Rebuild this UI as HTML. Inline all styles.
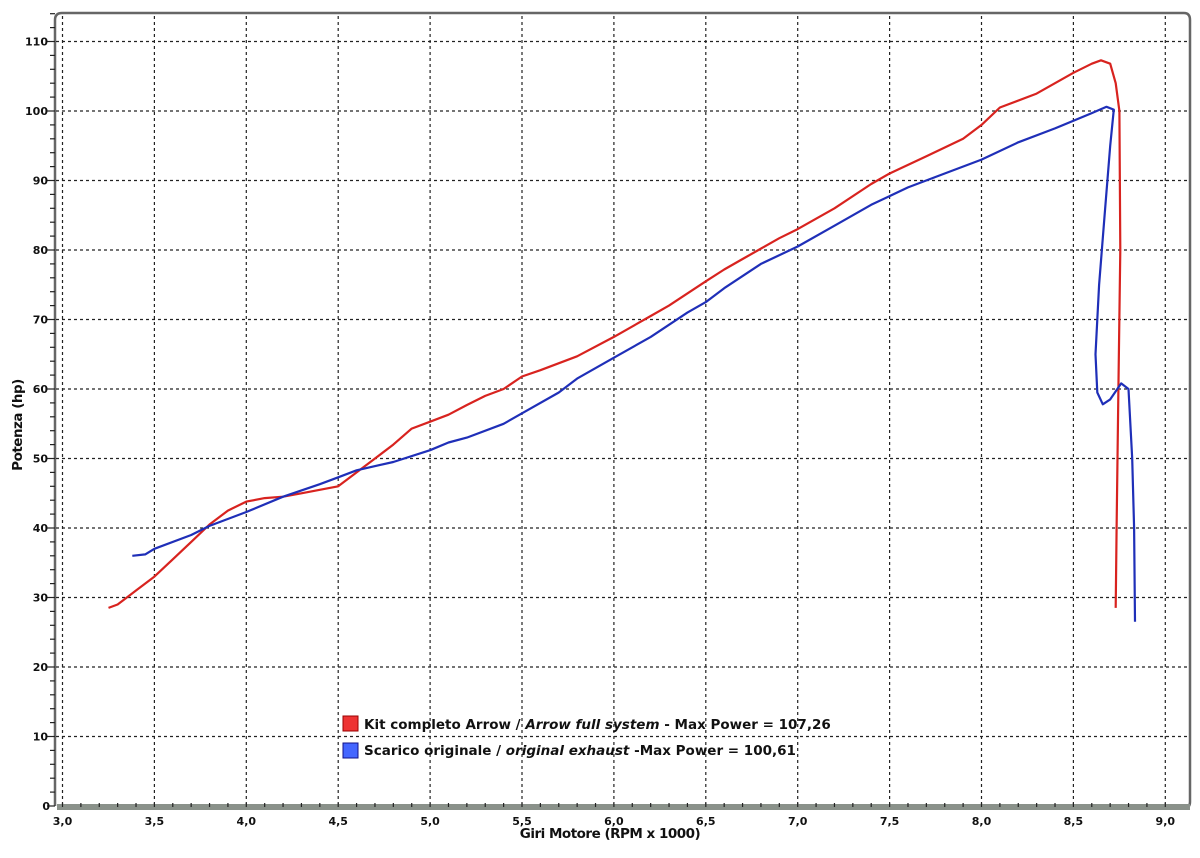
<!DOCTYPE html>
<html><head><meta charset="utf-8"><style>
html,body{margin:0;padding:0;background:#fff;}
svg{display:block;font-family:"DejaVu Sans","Liberation Sans",sans-serif;}
</style></head><body>
<svg id="s" width="1200" height="858" viewBox="0 0 1200 858" xmlns="http://www.w3.org/2000/svg">
<rect width="1200" height="858" fill="#fff"/>
<path d="M55,806 L55,20 Q55,13 62,13 L1184,13 Q1190,13 1190,20 L1190,802 Q1190,808 1184,808" fill="none" stroke="#666" stroke-width="2.5"/>
<rect x="57" y="804" width="1133" height="6" fill="#8a918a"/>
<g id="grid"></g>
<g id="ticks"></g>
<g id="labels" font-size="11" font-weight="bold" fill="#111"></g>
<g id="curves"></g>
<rect x="343" y="716" width="15" height="15" fill="#e33" stroke="#900"/>
<rect x="343" y="743" width="15" height="15" fill="#46f" stroke="#118"/>
<text x="364" y="729" font-size="13.5" font-weight="bold" fill="#111">Kit completo Arrow / <tspan font-style="italic">Arrow full system</tspan> - Max Power = 107,26</text>
<text x="364" y="755" font-size="13.5" font-weight="bold" fill="#111">Scarico originale / <tspan font-style="italic">original exhaust</tspan> -Max Power = 100,61</text>
<text x="610" y="838" font-size="13.5" font-weight="bold" text-anchor="middle" fill="#111" letter-spacing="-0.5">Giri Motore (RPM x 1000)</text>
<text transform="translate(22,425) rotate(-90)" font-size="13.5" font-weight="bold" text-anchor="middle" fill="#111" letter-spacing="-0.5">Potenza (hp)</text>
</svg>
<script>
var NS="http://www.w3.org/2000/svg";
function X(v){return 62.5+(v-3)*183.8;}
function Y(v){return 806-v*6.95;}
function el(t,a,p){var e=document.createElementNS(NS,t);for(var k in a)e.setAttribute(k,a[k]);document.getElementById(p).appendChild(e);return e;}
for(var i=0;i<=12;i++){var x=X(3+i*0.5);
 el("line",{x1:x,y1:16,x2:x,y2:804,stroke:"#222","stroke-width":1.2,"stroke-dasharray":"3,3"},"grid");
 var t=el("text",{x:x,y:825,"text-anchor":"middle"},"labels");t.textContent=(3+i*0.5).toFixed(1).replace(".",",");}
for(var j=1;j<=11;j++){var y=Y(j*10);
 el("line",{x1:56,y1:y,x2:1188,y2:y,stroke:"#222","stroke-width":1.2,"stroke-dasharray":"3,3"},"grid");}
for(var j=0;j<=11;j++){var t=el("text",{x:j==0?50:48,y:Y(j*10)+4,"text-anchor":"end"},"labels");t.textContent=j*10;}
for(var j=0;j<=57;j++){var y=Y(j*2);var l=j%5==0?8:5;
 el("line",{x1:55-l,y1:y,x2:55,y2:y,stroke:"#222","stroke-width":1.2},"ticks");}
for(var i=0;i<=60;i++){var x=X(3+i*0.1);
 el("line",{x1:x,y1:803,x2:x,y2:807,stroke:"#222","stroke-width":1.2},"ticks");}
var red=[[3.25,28.5],[3.3,29],[3.4,31],[3.5,33],[3.6,35.5],[3.7,38],[3.8,40.5],[3.9,42.5],[4.0,43.8],[4.1,44.3],[4.2,44.5],[4.3,45],[4.4,45.5],[4.5,46],[4.6,48],[4.7,50],[4.8,52],[4.9,54.3],[5.0,55.3],[5.1,56.3],[5.2,57.7],[5.3,59],[5.4,60],[5.5,61.8],[5.6,62.7],[5.8,64.7],[6.0,67.5],[6.2,70.5],[6.3,72],[6.5,75.5],[6.6,77.2],[6.7,78.7],[6.9,81.7],[7.0,83],[7.2,86],[7.4,89.5],[7.5,91],[7.7,93.5],[7.9,96],[8.0,98],[8.1,100.5],[8.3,102.5],[8.4,104],[8.5,105.5],[8.6,106.8],[8.65,107.3],[8.7,106.8],[8.73,104],[8.75,100],[8.755,80],[8.745,60],[8.735,40],[8.73,28.5]];
var blue=[[3.38,36],[3.45,36.2],[3.5,37],[3.7,39],[3.8,40.3],[4.0,42.3],[4.2,44.5],[4.4,46.3],[4.5,47.3],[4.6,48.3],[4.8,49.5],[5.0,51.2],[5.1,52.3],[5.2,53],[5.4,55],[5.5,56.5],[5.7,59.5],[5.8,61.5],[6.0,64.5],[6.2,67.5],[6.4,71],[6.5,72.5],[6.6,74.5],[6.8,78],[7.0,80.5],[7.2,83.5],[7.4,86.5],[7.6,89],[7.8,91],[8.0,93],[8.2,95.5],[8.4,97.5],[8.6,99.7],[8.68,100.6],[8.72,100.2],[8.7,95],[8.67,85],[8.64,75],[8.62,65],[8.63,59.5],[8.66,57.8],[8.7,58.5],[8.76,60.8],[8.8,60],[8.82,50],[8.83,40],[8.835,26.5]];
function pts(a){return a.map(function(p){return X(p[0]).toFixed(1)+","+Y(p[1]).toFixed(1);}).join(" ");}
el("polyline",{points:pts(red),fill:"none",stroke:"#d8231f","stroke-width":2.2,"stroke-linejoin":"round"},"curves");
el("polyline",{points:pts(blue),fill:"none",stroke:"#1f2fb8","stroke-width":2.2,"stroke-linejoin":"round"},"curves");
</script>
</body></html>
